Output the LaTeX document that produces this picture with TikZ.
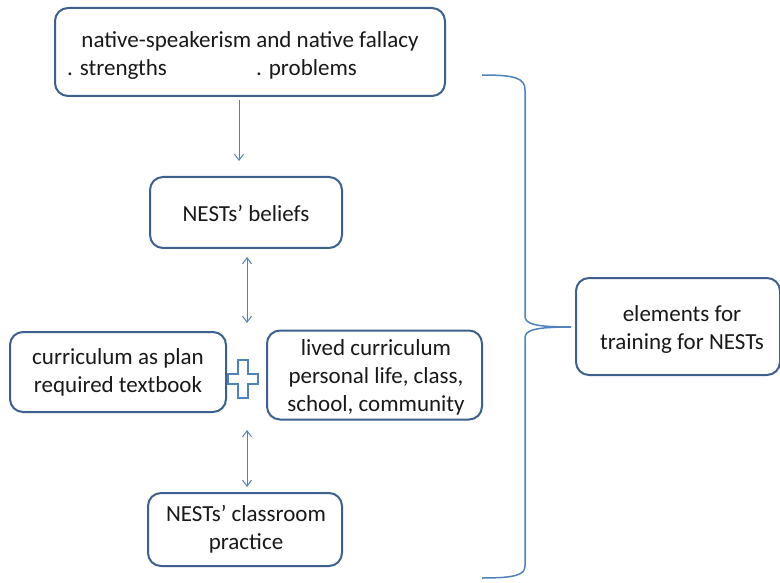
\documentclass[tikz,border=0pt]{standalone}
\usepackage{fontspec}
\setmainfont{Carlito}
\usetikzlibrary{arrows.meta}
\definecolor{boxblue}{RGB}{62,96,142}
\definecolor{lineblue}{RGB}{79,129,189}
\begin{document}
\begin{tikzpicture}[x=1pt,y=-1pt,
  box/.style={draw=boxblue,line width=2pt,rounded corners=13pt,fill=white,inner sep=0pt},
  txt/.style={font=\fontsize{23}{28}\selectfont,align=center,inner sep=0pt,text=black!90},
  conn/.style={draw=lineblue,line width=1pt,-{Straight Barb[length=6pt,width=9pt]}},
  dconn/.style={draw=lineblue,line width=1pt,{Straight Barb[length=6pt,width=9pt]}-{Straight Barb[length=6pt,width=9pt]}}]
\useasboundingbox (0,0) rectangle (780,583);
% boxes
\node[box,minimum width=390pt,minimum height=88pt] (top) at (250,52) {};
\node[box,minimum width=192pt,minimum height=71pt] (beliefs) at (246,212.5) {};
\node[box,minimum width=216pt,minimum height=80pt] (plan) at (118,372) {};
\node[box,minimum width=215pt,minimum height=89pt] (lived) at (374.5,375) {};
\node[box,minimum width=194pt,minimum height=73pt] (practice) at (245,529.5) {};
\node[box,minimum width=204pt,minimum height=97pt] (elements) at (678,326.5) {};
% texts
\node[txt] (t1) at (250,41) {native-speakerism and native fallacy};
\node[txt,anchor=west] (t2) at (67,69) {. strengths};
\node[txt,anchor=west] (t3) at (256,69) {. problems};
\node[txt] (tb) at (246,213) {NESTs’ beliefs};
\node[txt] (tp) at (118,372) {curriculum as plan\\required textbook};
\node[txt] (tl) at (376,377) {lived curriculum\\personal life, class,\\school, community};
\node[txt] (tc) at (246,529) {NESTs’ classroom\\practice};
\node[txt] (te) at (682,329) {elements for\\training for NESTs};
% plus sign
\draw[draw=lineblue,line width=2pt,fill=white]
  (238,360) -- (248,360) -- (248,374) -- (258,374) -- (258,384) -- (248,384)
  -- (248,398) -- (238,398) -- (238,384) -- (228,384) -- (228,374) -- (238,374) -- cycle;
% connectors
\coordinate (a1) at (239,100);
\coordinate (a2) at (239,161);
\coordinate (b1) at (247,257);
\coordinate (b2) at (247,323);
\coordinate (c1) at (247,430);
\coordinate (c2) at (247,487);
\draw[conn] (a1) -- (a2);
\draw[dconn] (b1) -- (b2);
\draw[dconn] (c1) -- (c2);
% brace
\coordinate (tip) at (571,327);
\draw[draw=lineblue,line width=1.5pt]
  (482,75) .. controls (515,75) and (525,78) .. (525,90) -- (525,316)
  .. controls (525,324) and (535,327) .. (tip)
  .. controls (535,327) and (525,330) .. (525,338) -- (525,566)
  .. controls (525,575) and (515,578) .. (482,578);
\end{tikzpicture}
\end{document}
